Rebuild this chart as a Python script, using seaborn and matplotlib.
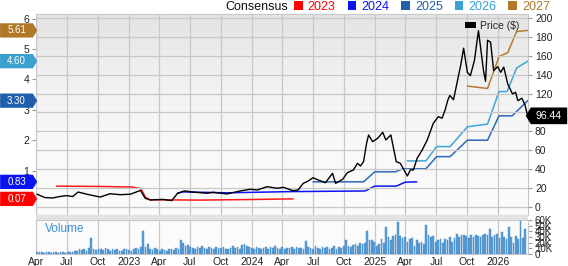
"""
Price vs. consensus EPS chart with weekly volume panel.
"""
import matplotlib
matplotlib.use("Agg")
import matplotlib.pyplot as plt
import matplotlib.dates as mdates
from matplotlib.colors import LinearSegmentedColormap
from matplotlib.patches import Patch, Rectangle
from matplotlib.path import Path
from matplotlib.ticker import FuncFormatter
from matplotlib.transforms import blended_transform_factory
import seaborn as sns
import numpy as np
import pandas as pd

# ---- data ----
price_dates = [
    "2022-04-04", "2022-04-27", "2022-05-20", "2022-06-10", "2022-07-01", "2022-07-19",
    "2022-08-04", "2022-08-31", "2022-10-08", "2022-11-07", "2022-12-07", "2023-01-06",
    "2023-02-05", "2023-02-19", "2023-03-06", "2023-04-12", "2023-05-09", "2023-05-26",
    "2023-06-16", "2023-07-10", "2023-08-21", "2023-09-08", "2023-10-20", "2023-11-28",
    "2023-12-27", "2024-01-18", "2024-02-16", "2024-03-16", "2024-04-04", "2024-05-03",
    "2024-05-18", "2024-06-02", "2024-06-17", "2024-07-01", "2024-07-16", "2024-08-07",
    "2024-08-28", "2024-09-06", "2024-09-27", "2024-10-11", "2024-10-29", "2024-11-10",
    "2024-11-19", "2024-11-28", "2024-12-07", "2024-12-13", "2024-12-25", "2025-01-09",
    "2025-01-24", "2025-02-02", "2025-02-17", "2025-03-05", "2025-03-17", "2025-04-07",
    "2025-04-16", "2025-04-25", "2025-05-06", "2025-05-21", "2025-06-05", "2025-06-23",
    "2025-07-08", "2025-07-19", "2025-07-28", "2025-08-05", "2025-08-11", "2025-08-22",
    "2025-09-12", "2025-09-21", "2025-10-02", "2025-10-11", "2025-10-23", "2025-11-04",
    "2025-11-19", "2025-11-25", "2025-12-01", "2025-12-10", "2025-12-19", "2025-12-31",
    "2026-01-09", "2026-01-18", "2026-01-30", "2026-02-13", "2026-02-22", "2026-03-01",
    "2026-03-13", "2026-03-22", "2026-03-30",
]
price_values = [
    13.5, 10.0, 9.5, 11.0, 12.0, 11.0,
    15.8, 13.4, 10.5, 14.0, 13.0, 13.5,
    17.5, 9.2, 7.4, 8.0, 6.8, 14.5,
    17.0, 15.8, 14.5, 15.5, 13.8, 16.9,
    18.7, 18.0, 21.5, 19.8, 20.8, 17.2,
    18.0, 25.0, 27.5, 31.0, 28.6, 25.7,
    35.6, 25.0, 29.3, 36.3, 39.2, 46.2,
    43.4, 48.0, 67.4, 76.2, 69.1, 72.7,
    79.0, 70.9, 76.2, 48.0, 46.2, 32.8,
    39.2, 39.2, 51.5, 60.3, 70.9, 88.6,
    95.6, 93.9, 102.6, 113.0, 118.0, 113.5,
    149.5, 168.0, 142.5, 139.0, 155.0, 186.6,
    144.2, 133.0, 176.5, 174.3, 144.2, 148.5,
    142.5, 148.0, 130.0, 119.6, 121.4, 112.5,
    115.0, 108.0, 96.44,
]

eps_2023_dates = ["2022-06-01", "2022-10-01", "2023-01-10", "2023-02-06", "2023-02-20",
                  "2023-03-06", "2023-08-01", "2024-01-01", "2024-05-03"]
eps_2023 = [0.49, 0.48, 0.46, 0.41, 0.12, 0.04, 0.03, 0.05, 0.07]

eps_2024_dates = ["2023-05-26", "2023-06-10", "2023-10-20", "2024-05-01", "2024-12-03",
                  "2024-12-31", "2025-03-05", "2025-04-01", "2025-05-05"]
eps_2024 = [0.25, 0.30, 0.27, 0.31, 0.33, 0.49, 0.49, 0.62, 0.63]

eps_2025_dates = ["2024-07-01", "2024-11-28", "2024-12-31", "2025-03-02", "2025-03-25",
                  "2025-06-01", "2025-07-03", "2025-08-12", "2025-10-02", "2025-12-01",
                  "2026-01-04", "2026-02-12", "2026-03-30"]
eps_2025 = [0.63, 0.63, 0.96, 0.96, 1.06, 1.06, 1.46, 1.46, 2.0, 2.0, 2.8, 2.8, 3.3]

eps_2026_dates = ["2025-04-07", "2025-06-01", "2025-07-03", "2025-08-12", "2025-10-02",
                  "2025-12-01", "2026-01-04", "2026-01-28", "2026-02-25", "2026-03-30"]
eps_2026 = [1.32, 1.32, 1.79, 1.79, 2.44, 2.53, 3.6, 3.6, 4.37, 4.6]

eps_2027_dates = ["2025-10-02", "2025-12-01", "2026-01-04", "2026-01-30", "2026-02-25",
                  "2026-03-30"]
eps_2027 = [3.78, 3.70, 4.75, 4.88, 5.57, 5.61]

consensus_years = ["2023", "2024", "2025", "2026", "2027"]
consensus_labels = ["0.07", "0.83", "3.30", "4.60", "5.61"]
consensus_colors = ["#ff1a1a", "#0a14f5", "#2d68b8", "#3ea6d6", "#b67a2e"]
tag_colors = ["#ff0000", "#0a14f0", "#1f5fae", "#39a0d0", "#b07828"]

volume_start = "2022-04-04"
volume_k = [
    3, 4, 3, 2, 4, 3, 2, 3, 4, 2, 3, 3, 2, 4, 3, 3, 5,
    6, 8, 7, 9, 6, 10, 28, 8, 7,
    9, 8, 7, 10, 8, 6, 9, 7, 8, 5, 6, 9, 8, 7, 6, 8, 10, 9,
    12, 41, 13, 18,
    8, 7, 10, 9, 6, 8, 7, 5, 9, 8, 7, 10, 9,
    25, 19, 14, 16, 12, 10,
    9, 12, 10, 14, 11, 8, 12, 10, 9, 13, 11, 10, 12, 9, 8, 11, 14, 10, 12, 9, 16, 17, 15, 12,
    10, 9, 12, 11, 8, 10, 13, 9, 12, 11, 15, 10, 9, 12, 8, 11, 10, 13, 9, 12, 10, 11, 9,
    23, 12, 10, 8, 14, 11, 9, 13, 10, 12, 8, 11, 15, 9, 12, 10, 14,
    25, 14, 12, 16, 18, 15, 19, 17, 20,
    41, 24, 24, 22, 15, 18, 26, 20,
    48, 30, 25, 32, 34, 56,
    32, 28, 30, 22, 27, 28, 14, 24, 20, 22, 18,
    51, 33, 30, 31, 22, 25, 27, 20, 26, 24, 30, 22, 28,
    36, 30, 34, 34, 31, 28, 33, 30, 34,
    32, 30, 34, 36, 33, 45, 30, 33, 35, 28,
    38, 30, 26, 48, 30, 20, 32, 26, 58, 28, 45,
]

price_ticks = list(range(0, 201, 20))
eps_ticks = [1, 2, 3, 4, 5, 6]
volume_ticks = [0, 10, 20, 30, 40, 50, 60]


def tag_right(x0, y0, width, height, mutation_size):
    # pentagon pointing right
    px, py = 0.72 * mutation_size, 0.22 * mutation_size
    x0, y0 = x0 - px, y0 - py
    x1, y1 = x0 + width + 2 * px, y0 + height + 2 * py
    tip = (y1 - y0) * 0.3
    return Path([(x0, y0), (x1, y0), (x1 + tip, (y0 + y1) / 2), (x1, y1), (x0, y1), (x0, y0)],
                closed=True)


def tag_left(x0, y0, width, height, mutation_size):
    px, py = 0.5 * mutation_size, 0.32 * mutation_size
    x0, y0 = x0 - px, y0 - py
    x1, y1 = x0 + width + 2 * px, y0 + height + 2 * py
    tip = (y1 - y0) * 0.3
    return Path([(x0, y0), (x1, y0), (x1, y1), (x0, y1), (x0 - tip, (y0 + y1) / 2), (x0, y0)],
                closed=True)


sns.set_style("white")
plt.rcParams["font.family"] = ["Liberation Sans", "DejaVu Sans"]

W, H = 568, 266
fig = plt.figure(figsize=(W / 100, H / 100), dpi=100)
ax = fig.add_axes([36 / W, 1 - 215 / H, 492 / W, 201 / H])
axv = fig.add_axes([36 / W, 1 - 254 / H, 492 / W, 34 / H], sharex=ax)
ax2 = ax.twinx()

# gradient background of the main panel
bg = LinearSegmentedColormap.from_list("bg", ["#fbfbfb", "#f9f9f9", "#f1f1f1", "#e4e4e4"])
ax.imshow(np.linspace(0, 1, 200).reshape(-1, 1), cmap=bg, origin="lower", aspect="auto",
          extent=[0, 1, 0, 1], transform=ax.transAxes, zorder=0)
axv.set_facecolor("#fbfbfb")
fig.patches.append(Rectangle((36 / W, 1 - 220 / H), 492 / W, 5 / H, transform=fig.transFigure,
                             facecolor="#e2e2e2", edgecolor="none"))

# consensus lines (left axis)
eps_series = [(eps_2023_dates, eps_2023), (eps_2024_dates, eps_2024), (eps_2025_dates, eps_2025),
              (eps_2026_dates, eps_2026), (eps_2027_dates, eps_2027)]
for (d, v), c in zip(eps_series, consensus_colors):
    sns.lineplot(x=pd.to_datetime(d), y=v, ax=ax, color=c, linewidth=1.1, legend=False, zorder=3)

# price (right axis)
sns.lineplot(x=pd.to_datetime(price_dates), y=price_values, ax=ax2, color="black",
             linewidth=1.0, legend=False, zorder=4)

# volume bars
vol_dates = pd.date_range(volume_start, periods=len(volume_k), freq="7D")
axv.bar(vol_dates, volume_k, width=5, color="#5b9fd6", edgecolor="#3f86c6", linewidth=0.3,
        zorder=3)

x0, x1 = pd.Timestamp("2022-04-01"), pd.Timestamp("2026-03-31")
ax.set_xlim(x0, x1)
ax.set_ylim(-0.46, 6.15)
ax2.set_ylim(-8.5, 204.2)
axv.set_ylim(0, 60)

grid_c = "#c8c8c8"
for a in (ax, axv):
    a.xaxis.set_major_locator(mdates.MonthLocator(bymonth=[1, 4, 7, 10]))
    a.grid(axis="x", color=grid_c, linewidth=0.9, zorder=1)
    for s in a.spines.values():
        s.set_color(grid_c)
        s.set_linewidth(0.8)
for s in ax2.spines.values():
    s.set_visible(False)

ax2.set_yticks(price_ticks)
ax2.grid(axis="y", color=grid_c, linewidth=0.9, zorder=1)
ax2.tick_params(axis="y", labelsize=7.5, length=3, color="#999999", pad=2, labelcolor="#222222")
ax2.set_ylabel("")

ax.set_yticks(eps_ticks)
ax.tick_params(axis="y", labelsize=7.5, length=3, color="#999999", pad=2, labelcolor="#222222")
ax.tick_params(axis="x", labelbottom=False, length=0)
ax.set_ylabel("")

axv.yaxis.tick_right()
axv.set_yticks(volume_ticks)
axv.set_yticklabels([f"{v}K" if v else "0" for v in volume_ticks])
axv.tick_params(axis="y", labelsize=7, length=3, color="#999999", pad=2, labelcolor="#222222")
axv.tick_params(axis="x", labelsize=7.5, length=0, pad=2, labelcolor="#222222")
axv.xaxis.set_major_formatter(FuncFormatter(
    lambda x, pos: str(mdates.num2date(x).year) if mdates.num2date(x).month == 1
    else mdates.num2date(x).strftime("%b")))
axv.text((45 - 36) / 492, (254 - 229) / 34, "Volume", transform=axv.transAxes,
         color="#3c8dd0", fontsize=8.5, va="center", ha="left")

# left value tags at the last consensus value
tag_tr = blended_transform_factory(fig.transFigure, ax.transData)
for (d, v), lab, c in zip(eps_series, consensus_labels, tag_colors):
    ax.text(16.5 / W, v[-1], lab, transform=tag_tr, ha="center", va="center", fontsize=7,
            color="white", clip_on=False, zorder=10,
            bbox=dict(boxstyle=tag_right, facecolor=c, edgecolor="none"))

# last price tag on the right, drawn over the tick labels
ptr = blended_transform_factory(fig.transFigure, ax2.transData)
fig.text(549 / W, price_values[-1], f"{price_values[-1]:.2f}", transform=ptr, ha="center",
         va="center", fontsize=7.5, color="white", zorder=10,
         bbox=dict(boxstyle=tag_left, facecolor="black", edgecolor="none"))

# legends
ax2.legend(handles=[Patch(facecolor="black", edgecolor="none")], labels=["Price ($)"],
           loc="center right", bbox_to_anchor=(0.982, 0.94), frameon=False, fontsize=7.5,
           handlelength=1.0, handleheight=0.5, handletextpad=0.4, borderpad=0, borderaxespad=0)
fig.text(225 / W, 1 - 7 / H, "Consensus", fontsize=9, va="center", ha="left", color="#111111")
fig.legend(handles=[Patch(facecolor=c, edgecolor="none") for c in tag_colors],
           labels=consensus_years, ncol=5, loc="center left",
           bbox_to_anchor=(294 / W, 1 - 7 / H), frameon=False, fontsize=9,
           labelcolor=tag_colors, handlelength=0.7, handleheight=0.7, handletextpad=0.4,
           columnspacing=0.95, borderpad=0, borderaxespad=0)

fig.savefig("out.png", dpi=100)
plt.close(fig)
